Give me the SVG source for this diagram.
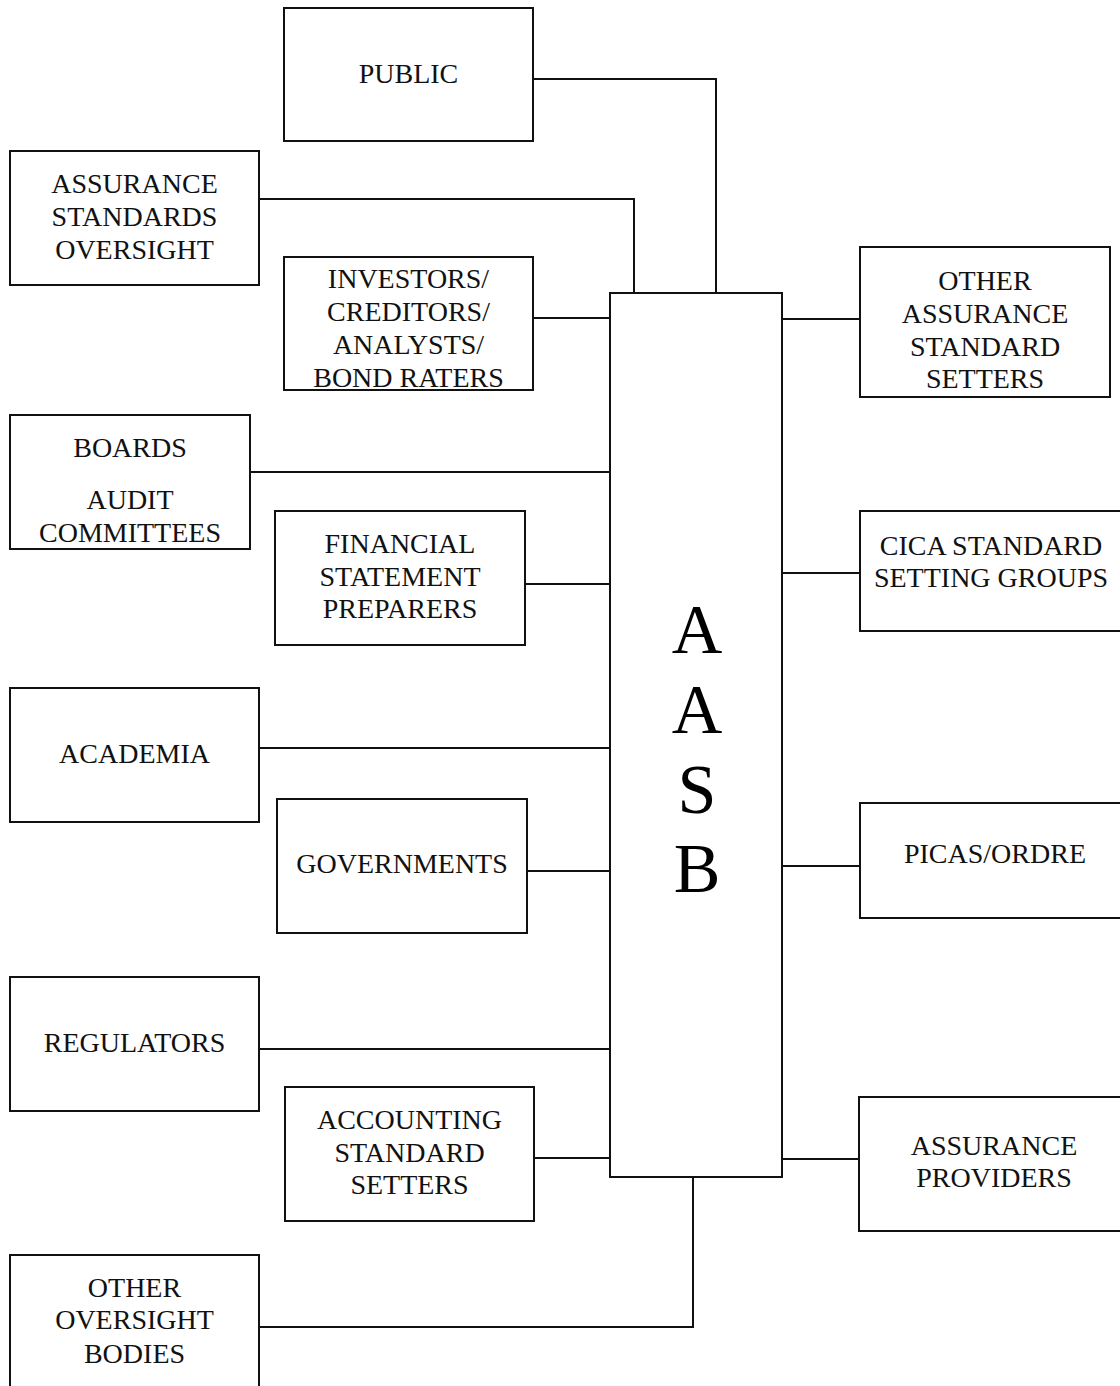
<svg xmlns="http://www.w3.org/2000/svg" width="1120" height="1386" viewBox="0 0 1120 1386">
<style>
.box{fill:#fff;stroke:#111;stroke-width:2}
.lbl{font-family:"Liberation Serif","Times New Roman",serif;font-size:28px;fill:#111;text-anchor:middle}
.big{font-family:"Liberation Serif","Times New Roman",serif;font-size:70px;fill:#000;text-anchor:middle}
.con{fill:none;stroke:#111;stroke-width:2}
</style>
<rect width="1120" height="1386" fill="#fff"/>
<g id="connectors">
<polyline class="con" points="533,79 716,79 716,293"/>
<polyline class="con" points="259,199 634,199 634,293"/>
<line class="con" x1="533" y1="318" x2="610" y2="318"/>
<line class="con" x1="250" y1="472" x2="610" y2="472"/>
<line class="con" x1="525" y1="584" x2="610" y2="584"/>
<line class="con" x1="259" y1="748" x2="610" y2="748"/>
<line class="con" x1="527" y1="871" x2="610" y2="871"/>
<line class="con" x1="259" y1="1049" x2="610" y2="1049"/>
<line class="con" x1="534" y1="1158" x2="610" y2="1158"/>
<polyline class="con" points="259,1327 693,1327 693,1177"/>
<line class="con" x1="782" y1="319" x2="860" y2="319"/>
<line class="con" x1="782" y1="573" x2="860" y2="573"/>
<line class="con" x1="782" y1="866" x2="860" y2="866"/>
<line class="con" x1="782" y1="1159" x2="859" y2="1159"/>
</g>
<g id="aasb">
<rect class="box" x="610" y="293" width="172" height="884"/>
<text class="big" x="697" y="653">A</text>
<text class="big" x="697" y="733">A</text>
<text class="big" x="697" y="813">S</text>
<text class="big" x="697" y="892">B</text>
</g>
<g id="public">
<rect class="box" x="284" y="8" width="249" height="133"/>
<text class="lbl" x="408.5" y="83">PUBLIC</text>
</g>
<g id="assurance-standards-oversight">
<rect class="box" x="10" y="151" width="249" height="134"/>
<text class="lbl" x="134.5" y="193">ASSURANCE</text>
<text class="lbl" x="134.5" y="226">STANDARDS</text>
<text class="lbl" x="134.5" y="259">OVERSIGHT</text>
</g>
<g id="investors">
<rect class="box" x="284" y="257" width="249" height="133"/>
<text class="lbl" x="408.5" y="288">INVESTORS/</text>
<text class="lbl" x="408.5" y="321">CREDITORS/</text>
<text class="lbl" x="408.5" y="354">ANALYSTS/</text>
<text class="lbl" x="408.5" y="387">BOND RATERS</text>
</g>
<g id="other-assurance-standard-setters">
<rect class="box" x="860" y="247" width="250" height="150"/>
<text class="lbl" x="985" y="290">OTHER</text>
<text class="lbl" x="985" y="323">ASSURANCE</text>
<text class="lbl" x="985" y="356">STANDARD</text>
<text class="lbl" x="985" y="388">SETTERS</text>
</g>
<g id="boards">
<rect class="box" x="10" y="415" width="240" height="134"/>
<text class="lbl" x="130" y="457">BOARDS</text>
<text class="lbl" x="130" y="509">AUDIT</text>
<text class="lbl" x="130" y="542">COMMITTEES</text>
</g>
<g id="financial-statement-preparers">
<rect class="box" x="275" y="511" width="250" height="134"/>
<text class="lbl" x="400" y="553">FINANCIAL</text>
<text class="lbl" x="400" y="586">STATEMENT</text>
<text class="lbl" x="400" y="618">PREPARERS</text>
</g>
<g id="cica">
<rect class="box" x="860" y="511" width="275" height="120"/>
<text class="lbl" x="991" y="555">CICA STANDARD</text>
<text class="lbl" x="991" y="587">SETTING GROUPS</text>
</g>
<g id="academia">
<rect class="box" x="10" y="688" width="249" height="134"/>
<text class="lbl" x="134.5" y="763">ACADEMIA</text>
</g>
<g id="governments">
<rect class="box" x="277" y="799" width="250" height="134"/>
<text class="lbl" x="402" y="873">GOVERNMENTS</text>
</g>
<g id="picas">
<rect class="box" x="860" y="803" width="275" height="115"/>
<text class="lbl" x="995" y="863">PICAS/ORDRE</text>
</g>
<g id="regulators">
<rect class="box" x="10" y="977" width="249" height="134"/>
<text class="lbl" x="134.5" y="1052">REGULATORS</text>
</g>
<g id="accounting-standard-setters">
<rect class="box" x="285" y="1087" width="249" height="134"/>
<text class="lbl" x="409.5" y="1129">ACCOUNTING</text>
<text class="lbl" x="409.5" y="1162">STANDARD</text>
<text class="lbl" x="409.5" y="1194">SETTERS</text>
</g>
<g id="assurance-providers">
<rect class="box" x="859" y="1097" width="275" height="134"/>
<text class="lbl" x="994" y="1155">ASSURANCE</text>
<text class="lbl" x="994" y="1187">PROVIDERS</text>
</g>
<g id="other-oversight-bodies">
<rect class="box" x="10" y="1255" width="249" height="145"/>
<text class="lbl" x="134.5" y="1297">OTHER</text>
<text class="lbl" x="134.5" y="1329">OVERSIGHT</text>
<text class="lbl" x="134.5" y="1363">BODIES</text>
</g>
</svg>
